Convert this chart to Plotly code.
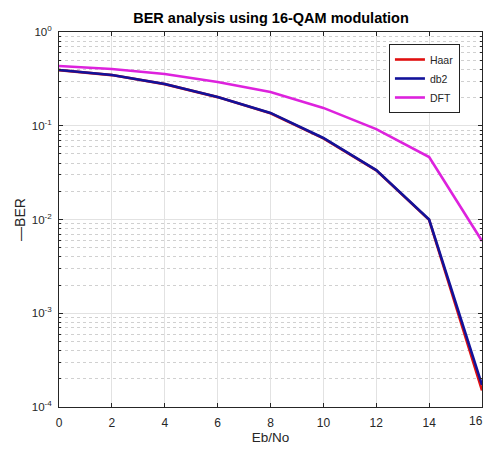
import plotly.graph_objects as go

ebno = [0, 2, 4, 6, 8, 10, 12, 14, 16]
ber_haar = [0.392, 0.347, 0.278, 0.202, 0.136, 0.0735, 0.0334, 0.0099, 0.000150]
ber_db2 = [0.393, 0.348, 0.279, 0.203, 0.137, 0.074, 0.0337, 0.0100, 0.000172]
ber_dft = [0.434, 0.403, 0.356, 0.293, 0.229, 0.155, 0.092, 0.0464, 0.0059]

ytick_vals = [1e-4, 1e-3, 1e-2, 1e-1, 1]
ytick_text = ["10<sup>-4</sup>", "10<sup>-3</sup>", "10<sup>-2</sup>", "10<sup>-1</sup>", "10<sup>0</sup>"]
xtick_vals = [0, 2, 4, 6, 8, 10, 12, 14, 16]
xtick_text = ["0", "2", "4", "6", "8", "10", "12", "14", ""]
last_xtick = "16"

font = "Liberation Sans, Arial, sans-serif"

fig = go.Figure()
fig.add_trace(go.Scatter(x=ebno, y=ber_haar, mode="lines", name="Haar",
                         line=dict(color="#e01010", width=2.6)))
fig.add_trace(go.Scatter(x=ebno, y=ber_db2, mode="lines", name="db2",
                         line=dict(color="#12129a", width=2.6)))
fig.add_trace(go.Scatter(x=ebno, y=ber_dft, mode="lines", name="DFT",
                         line=dict(color="#dd22dd", width=2.6)))

W, H = 486, 455
fig.update_layout(
    width=W, height=H,
    margin=dict(l=59, r=4, t=32, b=48, autoexpand=False),
    paper_bgcolor="white", plot_bgcolor="white",
    font=dict(family=font, size=12, color="#262626"),
    title=dict(text="<b>BER analysis using 16-QAM modulation</b>", x=271 / W, xanchor="center",
               xref="container", y=1 - 18 / H, yref="container", yanchor="middle",
               font=dict(size=14.5, color="black", family=font), automargin=False),
    showlegend=True,
    legend=dict(x=0.780, y=0.968, xanchor="left", yanchor="top",
                bordercolor="#222222", borderwidth=1, bgcolor="white",
                font=dict(size=10.5, color="#262626", family=font),
                tracegroupgap=0, itemwidth=30),
)
fig.add_annotation(x=16, y=0, xref="x", yref="paper", text=last_xtick, showarrow=False,
                   xanchor="right", yanchor="top", yshift=-5, xshift=3,
                   font=dict(size=12, color="#262626", family=font))
fig.update_xaxes(range=[0, 16], tickvals=xtick_vals, ticktext=xtick_text, showline=True,
                 linecolor="#262626",
                 linewidth=1, mirror="ticks", ticks="inside", ticklen=4, tickcolor="#262626",
                 showgrid=True, gridcolor="#e2e2e2", gridwidth=1, zeroline=False,
                 automargin=False, tickfont=dict(size=12), ticklabelstandoff=5,
                 title=dict(text="Eb/No", font=dict(size=13.5), standoff=3))
fig.update_yaxes(type="log", range=[-4, 0], tickvals=ytick_vals, ticktext=ytick_text,
                 showline=True, linecolor="#262626", linewidth=1, mirror="ticks",
                 ticks="inside", ticklen=4, tickcolor="#262626",
                 showgrid=True, gridcolor="#e2e2e2", gridwidth=1, zeroline=False,
                 automargin=False, tickfont=dict(size=11.5), ticklabelstandoff=4,
                 minor=dict(showgrid=True, gridcolor="#d0d0d0", griddash="dot", dtick="D1",
                            ticks="inside", ticklen=2, tickcolor="#262626"),
                 title=dict(text="—BER", font=dict(size=14), standoff=2))

fig.write_html("out.html", config={"displayModeBar": False},
               post_script="document.body.style.margin='0';document.body.style.overflow='hidden';")
